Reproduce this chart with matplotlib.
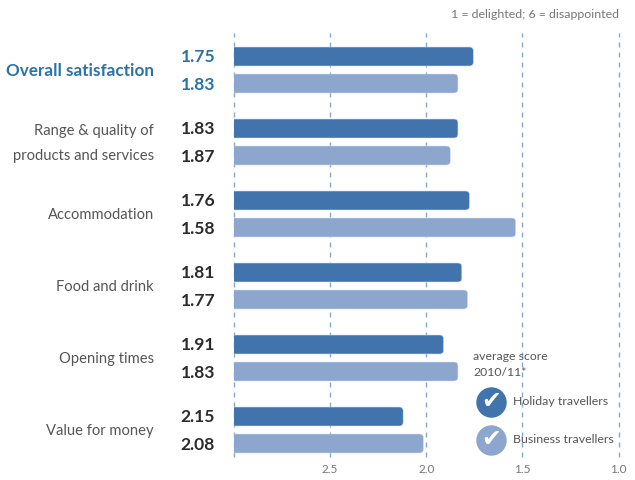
import matplotlib
matplotlib.use('Agg')
import matplotlib.pyplot as plt
from matplotlib.patches import FancyBboxPatch

plt.rcParams['font.family'] = ['Lato', 'DejaVu Sans']

# Data
categories = ['Overall satisfaction', 'Range & quality of\nproducts and services',
              'Accommodation', 'Food and drink', 'Opening times', 'Value for money']
# printed scores
holiday_labels = ['1.75', '1.83', '1.76', '1.81', '1.91', '2.15']
business_labels = ['1.83', '1.87', '1.58', '1.77', '1.83', '2.08']
# bar lengths as drawn (a few differ from the printed scores)
holiday_bars = [1.755, 1.835, 1.775, 1.815, 1.91, 2.12]
business_bars = [1.835, 1.875, 1.535, 1.785, 1.835, 2.015]
ticks = [2.5, 2.0, 1.5, 1.0]
tick_labels = ['2.5', '2.0', '1.5', '1.0']

dark = '#4174ac'
light = '#8ca6ce'
blue_text = '#2a72a8'
grey = '#555555'
value_col = '#2b2b2b'
W, H = 635, 480

fig = plt.figure(figsize=(W / 100, H / 100), dpi=100)
# axes spans the dashed lines, 72 px per group, 192 px per score unit
ax = fig.add_axes([234 / W, 1 - 457 / H, 384.5 / W, 424 / H])
ax.set_xlim(3, 1)
ax.set_ylim(387 / 72, -37 / 72)
for s in ax.spines.values():
    s.set_visible(False)
ax.set_yticks([])
ax.set_xticks(ticks)
ax.set_xticklabels(tick_labels, color='#777777', fontsize=8.5)
ax.tick_params(axis='x', length=0, pad=5)
for x in [3.0] + ticks:
    ax.axvline(x, color='#8aa6d0', lw=1, dashes=(3.6, 3.6), zorder=1, clip_on=False)


def draw_bar(val, y, col):
    # rounded box starts past the axis, so only the right end shows round
    h = 19 / 72
    box = FancyBboxPatch((val, y - h / 2), 3.05 - val, h,
                         boxstyle='round,pad=0,rounding_size=0.02',
                         mutation_aspect=192 / 72, fc=col, ec='#d3ddec', lw=0.4, zorder=3)
    ax.add_patch(box)


off = 13.5 / 72
for i, cat in enumerate(categories):
    draw_bar(holiday_bars[i], i - off, dark)
    draw_bar(business_bars[i], i + off, light)
    first = i == 0
    ax.annotate(holiday_labels[i], (3, i - off), xytext=(-38.5, -0.5), textcoords='offset points',
                va='center', ha='left', fontsize=12.6, fontweight='bold',
                color=blue_text if first else value_col)
    ax.annotate(business_labels[i], (3, i + off), xytext=(-38.5, -1), textcoords='offset points',
                va='center', ha='left', fontsize=12.6, fontweight='bold',
                color=blue_text if first else value_col)
    ax.annotate(cat, (3, i), xytext=(-57.6, -0.8), textcoords='offset points',
                va='center', ha='right', ma='right', linespacing=2.0,
                fontsize=12.3 if first else 10.6, fontweight='bold' if first else 'normal',
                color=blue_text if first else grey)

# Overlay in pixels for the notes and key
ov = fig.add_axes([0, 0, 1, 1], facecolor='none')
ov.set_xlim(0, W)
ov.set_ylim(H, 0)
ov.axis('off')
ov.text(619, 14, '1 = delighted; 6 = disappointed', ha='right', va='center', fontsize=8.9, color='#777777')
ov.text(473, 357, 'average score', ha='left', va='center', fontsize=8.8, color=grey)
ov.text(473, 372, '2010/11*', ha='left', va='center', fontsize=8.8, color=grey)
for y, col, name in [(401.5, dark, 'Holiday travellers'), (439.5, light, 'Business travellers')]:
    ov.scatter([491], [y], s=480, color=col, linewidths=0, zorder=2)
    ov.text(491, y, '\u2714', ha='center', va='center', fontsize=17, color='white',
            family='DejaVu Sans', zorder=3)
    ov.text(513, y, name, ha='left', va='center', fontsize=8.9, color=grey)

fig.savefig('out.png', dpi=100)
